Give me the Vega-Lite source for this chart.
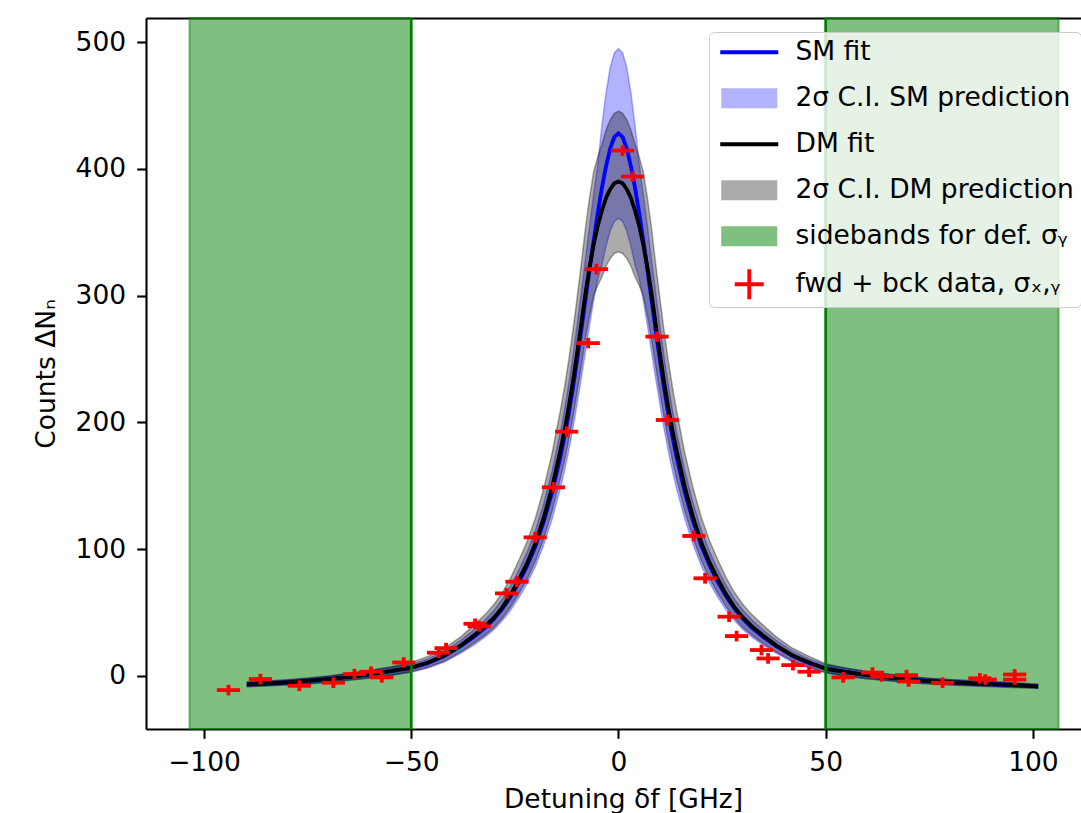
{
  "$schema": "https://vega.github.io/schema/vega-lite/v6.json",
  "width": 935,
  "height": 711,
  "autosize": {"type": "none"},
  "padding": {"left": 146, "top": 18, "right": 0, "bottom": 84},
  "background": "white",
  "config": {
    "view": {"stroke": null},
    "font": "DejaVu Sans",
    "axis": {
      "labelFont": "DejaVu Sans", "labelFontSize": 26.5, "labelColor": "#000000",
      "titleFont": "DejaVu Sans", "titleFontSize": 26.5, "titleFontWeight": "normal", "titleColor": "#000000",
      "tickColor": "#000000", "tickWidth": 2.1, "tickSize": 9.3,
      "domainColor": "#000000", "domainWidth": 2.1, "grid": false, "labelPadding": 11
    }
  },
  "datasets": {
    "bands": [{"x0": -103.5, "x1": -50}, {"x0": 50, "x1": 106.2}],
    "lines50": [{"x": -50}, {"x": 50}],
    "curves": [
      {"x": -89.6, "sm": -6.8, "sm_lo": -8.5, "sm_hi": -5.1, "dm": -6.8, "dm_lo": -8.7, "dm_hi": -4.9},
      {"x": -85, "sm": -6.1, "sm_lo": -7.9, "sm_hi": -4.3, "dm": -6.1, "dm_lo": -8.1, "dm_hi": -4.1},
      {"x": -80, "sm": -5.2, "sm_lo": -7.1, "sm_hi": -3.3, "dm": -5.2, "dm_lo": -7.3, "dm_hi": -3.1},
      {"x": -75, "sm": -4.1, "sm_lo": -6.2, "sm_hi": -2.0, "dm": -4.1, "dm_lo": -6.4, "dm_hi": -1.8},
      {"x": -70, "sm": -2.6, "sm_lo": -4.9, "sm_hi": -0.3, "dm": -2.6, "dm_lo": -5.1, "dm_hi": -0.1},
      {"x": -65, "sm": -0.8, "sm_lo": -3.4, "sm_hi": 1.8, "dm": -0.8, "dm_lo": -3.5, "dm_hi": 1.9},
      {"x": -60, "sm": 1.2, "sm_lo": -1.7, "sm_hi": 4.1, "dm": 1.2, "dm_lo": -1.8, "dm_hi": 4.2},
      {"x": -55, "sm": 3.6, "sm_lo": 0.4, "sm_hi": 6.8, "dm": 3.6, "dm_lo": 0.3, "dm_hi": 6.9},
      {"x": -50, "sm": 6.2, "sm_lo": 2.7, "sm_hi": 9.1, "dm": 6.5, "dm_lo": 3.2, "dm_hi": 10.6},
      {"x": -46, "sm": 10, "sm_lo": 6.2, "sm_hi": 13.3, "dm": 10.5, "dm_lo": 6.7, "dm_hi": 15.3},
      {"x": -42, "sm": 15.5, "sm_lo": 10.9, "sm_hi": 19.4, "dm": 16, "dm_lo": 11.6, "dm_hi": 21.7},
      {"x": -38, "sm": 23.5, "sm_lo": 17.9, "sm_hi": 28.2, "dm": 24, "dm_lo": 18.8, "dm_hi": 30.9},
      {"x": -35, "sm": 30.5, "sm_lo": 24, "sm_hi": 35.9, "dm": 31.5, "dm_lo": 25.4, "dm_hi": 39.6},
      {"x": -32, "sm": 38.5, "sm_lo": 31, "sm_hi": 44.7, "dm": 39.5, "dm_lo": 32.6, "dm_hi": 48.9},
      {"x": -30, "sm": 45, "sm_lo": 36.6, "sm_hi": 51.8, "dm": 46, "dm_lo": 38.3, "dm_hi": 56.5},
      {"x": -28, "sm": 53, "sm_lo": 43.6, "sm_hi": 60.6, "dm": 54, "dm_lo": 45.5, "dm_hi": 65.7},
      {"x": -26, "sm": 62.5, "sm_lo": 51.8, "sm_hi": 71.1, "dm": 64, "dm_lo": 54.4, "dm_hi": 77.3},
      {"x": -24, "sm": 74, "sm_lo": 61.8, "sm_hi": 83.7, "dm": 76, "dm_lo": 65, "dm_hi": 91.3},
      {"x": -22, "sm": 87, "sm_lo": 73.1, "sm_hi": 98, "dm": 89, "dm_lo": 76.6, "dm_hi": 106.3},
      {"x": -20, "sm": 102.5, "sm_lo": 86.6, "sm_hi": 115.1, "dm": 105, "dm_lo": 90.8, "dm_hi": 124.9},
      {"x": -18, "sm": 122, "sm_lo": 103.6, "sm_hi": 136.5, "dm": 125, "dm_lo": 108.6, "dm_hi": 148.1},
      {"x": -16, "sm": 145, "sm_lo": 123.6, "sm_hi": 161.8, "dm": 149, "dm_lo": 130, "dm_hi": 175.9},
      {"x": -14, "sm": 173, "sm_lo": 148, "sm_hi": 192.6, "dm": 178, "dm_lo": 155.8, "dm_hi": 209.6},
      {"x": -13, "sm": 189, "sm_lo": 161.9, "sm_hi": 210.2, "dm": 194, "dm_lo": 170.1, "dm_hi": 228.1},
      {"x": -12, "sm": 207, "sm_lo": 177.5, "sm_hi": 230, "dm": 212, "dm_lo": 186.1, "dm_hi": 249},
      {"x": -11, "sm": 227, "sm_lo": 194.9, "sm_hi": 252, "dm": 232, "dm_lo": 203.9, "dm_hi": 272.2},
      {"x": -10, "sm": 249, "sm_lo": 214.1, "sm_hi": 276.2, "dm": 254, "dm_lo": 223.5, "dm_hi": 297.7},
      {"x": -9, "sm": 272, "sm_lo": 234.1, "sm_hi": 301.5, "dm": 277, "dm_lo": 243.9, "dm_hi": 324.4},
      {"x": -8, "sm": 296, "sm_lo": 255, "sm_hi": 327.9, "dm": 301, "dm_lo": 265.3, "dm_hi": 352.3},
      {"x": -7, "sm": 320, "sm_lo": 275.9, "sm_hi": 354.3, "dm": 322, "dm_lo": 284, "dm_hi": 376.6},
      {"x": -6, "sm": 343, "sm_lo": 295.9, "sm_hi": 379.6, "dm": 340, "dm_lo": 300, "dm_hi": 397.5},
      {"x": -5, "sm": 365, "sm_lo": 313, "sm_hi": 403.8, "dm": 355, "dm_lo": 307.9, "dm_hi": 409.4},
      {"x": -4, "sm": 385, "sm_lo": 324, "sm_hi": 434, "dm": 367, "dm_lo": 314.6, "dm_hi": 419.4},
      {"x": -3, "sm": 402, "sm_lo": 339, "sm_hi": 460, "dm": 377, "dm_lo": 323.3, "dm_hi": 430.7},
      {"x": -2, "sm": 416, "sm_lo": 350.9, "sm_hi": 480, "dm": 384, "dm_lo": 329.3, "dm_hi": 438.7},
      {"x": -1, "sm": 425, "sm_lo": 358.5, "sm_hi": 491.5, "dm": 388.5, "dm_lo": 333.2, "dm_hi": 443.8},
      {"x": 0, "sm": 428, "sm_lo": 361.1, "sm_hi": 494.9, "dm": 390, "dm_lo": 334.5, "dm_hi": 445.5},
      {"x": 1, "sm": 425, "sm_lo": 358.5, "sm_hi": 491.5, "dm": 388.5, "dm_lo": 333.2, "dm_hi": 443.8},
      {"x": 2, "sm": 416, "sm_lo": 350.9, "sm_hi": 480, "dm": 384, "dm_lo": 329.3, "dm_hi": 438.7},
      {"x": 3, "sm": 402, "sm_lo": 339, "sm_hi": 460, "dm": 377, "dm_lo": 323.3, "dm_hi": 430.7},
      {"x": 4, "sm": 385, "sm_lo": 324, "sm_hi": 434, "dm": 367, "dm_lo": 314.6, "dm_hi": 419.4},
      {"x": 5, "sm": 365, "sm_lo": 313, "sm_hi": 403.8, "dm": 355, "dm_lo": 307.9, "dm_hi": 409.4},
      {"x": 6, "sm": 343, "sm_lo": 295.9, "sm_hi": 379.6, "dm": 340, "dm_lo": 300, "dm_hi": 397.5},
      {"x": 7, "sm": 320, "sm_lo": 275.9, "sm_hi": 354.3, "dm": 322, "dm_lo": 284, "dm_hi": 376.6},
      {"x": 8, "sm": 296, "sm_lo": 255, "sm_hi": 327.9, "dm": 301, "dm_lo": 265.3, "dm_hi": 352.3},
      {"x": 9, "sm": 272, "sm_lo": 234.1, "sm_hi": 301.5, "dm": 277, "dm_lo": 243.9, "dm_hi": 324.4},
      {"x": 10, "sm": 249, "sm_lo": 214.1, "sm_hi": 276.2, "dm": 254, "dm_lo": 223.5, "dm_hi": 297.7},
      {"x": 11, "sm": 227, "sm_lo": 194.9, "sm_hi": 252, "dm": 232, "dm_lo": 203.9, "dm_hi": 272.2},
      {"x": 12, "sm": 207, "sm_lo": 177.5, "sm_hi": 230, "dm": 212, "dm_lo": 186.1, "dm_hi": 249},
      {"x": 13, "sm": 189, "sm_lo": 161.9, "sm_hi": 210.2, "dm": 194, "dm_lo": 170.1, "dm_hi": 228.1},
      {"x": 14, "sm": 173, "sm_lo": 148, "sm_hi": 192.6, "dm": 178, "dm_lo": 155.8, "dm_hi": 209.6},
      {"x": 16, "sm": 145, "sm_lo": 123.6, "sm_hi": 161.8, "dm": 149, "dm_lo": 130, "dm_hi": 175.9},
      {"x": 18, "sm": 122, "sm_lo": 103.6, "sm_hi": 136.5, "dm": 125, "dm_lo": 108.6, "dm_hi": 148.1},
      {"x": 20, "sm": 102.5, "sm_lo": 86.6, "sm_hi": 115.1, "dm": 105, "dm_lo": 90.8, "dm_hi": 124.9},
      {"x": 22, "sm": 87, "sm_lo": 73.1, "sm_hi": 98, "dm": 89, "dm_lo": 76.6, "dm_hi": 106.3},
      {"x": 24, "sm": 74, "sm_lo": 61.8, "sm_hi": 83.7, "dm": 76, "dm_lo": 65, "dm_hi": 91.3},
      {"x": 26, "sm": 62.5, "sm_lo": 51.8, "sm_hi": 71.1, "dm": 64, "dm_lo": 54.4, "dm_hi": 77.3},
      {"x": 28, "sm": 53, "sm_lo": 43.6, "sm_hi": 60.6, "dm": 54, "dm_lo": 45.5, "dm_hi": 65.7},
      {"x": 30, "sm": 45, "sm_lo": 36.6, "sm_hi": 51.8, "dm": 46, "dm_lo": 38.3, "dm_hi": 56.5},
      {"x": 32, "sm": 38.5, "sm_lo": 31, "sm_hi": 44.7, "dm": 39.5, "dm_lo": 32.6, "dm_hi": 48.9},
      {"x": 35, "sm": 30.5, "sm_lo": 24, "sm_hi": 35.9, "dm": 31.5, "dm_lo": 25.4, "dm_hi": 39.6},
      {"x": 38, "sm": 23.5, "sm_lo": 17.9, "sm_hi": 28.2, "dm": 24, "dm_lo": 18.8, "dm_hi": 30.9},
      {"x": 42, "sm": 15.5, "sm_lo": 10.9, "sm_hi": 19.4, "dm": 16, "dm_lo": 11.6, "dm_hi": 21.7},
      {"x": 46, "sm": 10, "sm_lo": 6.2, "sm_hi": 13.3, "dm": 10.5, "dm_lo": 6.7, "dm_hi": 15.3},
      {"x": 50, "sm": 5.8, "sm_lo": 2.5, "sm_hi": 8.7, "dm": 5.5, "dm_lo": 2.3, "dm_hi": 9.5},
      {"x": 55, "sm": 2.8, "sm_lo": -0.3, "sm_hi": 5.9, "dm": 2.8, "dm_lo": -0.4, "dm_hi": 6.0},
      {"x": 60, "sm": 0.5, "sm_lo": -2.3, "sm_hi": 3.3, "dm": 0.5, "dm_lo": -2.4, "dm_hi": 3.4},
      {"x": 65, "sm": -1.3, "sm_lo": -3.8, "sm_hi": 1.2, "dm": -1.3, "dm_lo": -4.0, "dm_hi": 1.4},
      {"x": 70, "sm": -3.0, "sm_lo": -5.3, "sm_hi": -0.7, "dm": -3.0, "dm_lo": -5.4, "dm_hi": -0.6},
      {"x": 75, "sm": -4.2, "sm_lo": -6.3, "sm_hi": -2.1, "dm": -4.2, "dm_lo": -6.5, "dm_hi": -1.9},
      {"x": 80, "sm": -5.1, "sm_lo": -7.0, "sm_hi": -3.2, "dm": -5.1, "dm_lo": -7.3, "dm_hi": -2.9},
      {"x": 85, "sm": -5.9, "sm_lo": -7.7, "sm_hi": -4.1, "dm": -5.9, "dm_lo": -8.0, "dm_hi": -3.8},
      {"x": 90, "sm": -6.6, "sm_lo": -8.3, "sm_hi": -4.9, "dm": -6.6, "dm_lo": -8.6, "dm_hi": -4.6},
      {"x": 95, "sm": -7.3, "sm_lo": -8.9, "sm_hi": -5.7, "dm": -7.3, "dm_lo": -9.2, "dm_hi": -5.4},
      {"x": 101.2, "sm": -8.3, "sm_lo": -9.8, "sm_hi": -6.8, "dm": -8.3, "dm_lo": -10.0, "dm_hi": -6.6}
    ],
    "points": [
      {"x": -94.1, "y": -11.3, "xlo": -96.9, "xhi": -91.3, "ylo": -15.5, "yhi": -7.1},
      {"x": -86.4, "y": -2.6, "xlo": -89.2, "xhi": -83.6, "ylo": -6.8, "yhi": 1.6},
      {"x": -77.0, "y": -7.9, "xlo": -79.8, "xhi": -74.2, "ylo": -12.1, "yhi": -3.7},
      {"x": -68.8, "y": -5.5, "xlo": -71.6, "xhi": -66.0, "ylo": -9.7, "yhi": -1.3},
      {"x": -63.7, "y": 1.3, "xlo": -66.5, "xhi": -60.9, "ylo": -2.9, "yhi": 5.5},
      {"x": -59.7, "y": 3.2, "xlo": -62.5, "xhi": -56.9, "ylo": -1.0, "yhi": 7.4},
      {"x": -57.1, "y": -1.3, "xlo": -59.9, "xhi": -54.3, "ylo": -5.5, "yhi": 2.9},
      {"x": -51.8, "y": 10.5, "xlo": -54.6, "xhi": -49.0, "ylo": 6.3, "yhi": 14.7},
      {"x": -43.4, "y": 18.2, "xlo": -46.2, "xhi": -40.6, "ylo": 14.0, "yhi": 22.4},
      {"x": -41.6, "y": 21.8, "xlo": -44.4, "xhi": -38.8, "ylo": 17.6, "yhi": 26.0},
      {"x": -34.6, "y": 41.0, "xlo": -37.4, "xhi": -31.8, "ylo": 36.8, "yhi": 45.2},
      {"x": -33.6, "y": 39.0, "xlo": -36.4, "xhi": -30.8, "ylo": 34.8, "yhi": 43.2},
      {"x": -27.0, "y": 65.0, "xlo": -29.8, "xhi": -24.2, "ylo": 60.8, "yhi": 69.2},
      {"x": -24.5, "y": 74.2, "xlo": -27.3, "xhi": -21.7, "ylo": 70.0, "yhi": 78.4},
      {"x": -20.1, "y": 109.2, "xlo": -22.9, "xhi": -17.3, "ylo": 105.0, "yhi": 113.4},
      {"x": -15.7, "y": 148.7, "xlo": -18.5, "xhi": -12.9, "ylo": 144.5, "yhi": 152.9},
      {"x": -12.5, "y": 192.6, "xlo": -15.3, "xhi": -9.7, "ylo": 188.4, "yhi": 196.8},
      {"x": -7.3, "y": 262.5, "xlo": -10.1, "xhi": -4.5, "ylo": 258.3, "yhi": 266.7},
      {"x": -5.3, "y": 320.8, "xlo": -8.1, "xhi": -2.5, "ylo": 316.6, "yhi": 325.0},
      {"x": 1.0, "y": 414.4, "xlo": -1.8, "xhi": 3.8, "ylo": 410.2, "yhi": 418.6},
      {"x": 3.4, "y": 393.9, "xlo": 0.6, "xhi": 6.2, "ylo": 389.7, "yhi": 398.1},
      {"x": 9.3, "y": 267.6, "xlo": 6.5, "xhi": 12.1, "ylo": 263.4, "yhi": 271.8},
      {"x": 11.8, "y": 201.8, "xlo": 9.0, "xhi": 14.6, "ylo": 197.6, "yhi": 206.0},
      {"x": 18.2, "y": 110.3, "xlo": 15.4, "xhi": 21.0, "ylo": 106.1, "yhi": 114.5},
      {"x": 20.9, "y": 76.9, "xlo": 18.1, "xhi": 23.7, "ylo": 72.7, "yhi": 81.1},
      {"x": 26.7, "y": 46.6, "xlo": 23.9, "xhi": 29.5, "ylo": 42.4, "yhi": 50.8},
      {"x": 28.5, "y": 31.3, "xlo": 25.7, "xhi": 31.3, "ylo": 27.1, "yhi": 35.5},
      {"x": 34.5, "y": 20.3, "xlo": 31.7, "xhi": 37.3, "ylo": 16.1, "yhi": 24.5},
      {"x": 36.1, "y": 13.7, "xlo": 33.3, "xhi": 38.9, "ylo": 9.5, "yhi": 17.9},
      {"x": 42.1, "y": 8.4, "xlo": 39.3, "xhi": 44.9, "ylo": 4.2, "yhi": 12.6},
      {"x": 46.0, "y": 3.2, "xlo": 43.2, "xhi": 48.8, "ylo": -1.0, "yhi": 7.4},
      {"x": 54.2, "y": -1.3, "xlo": 51.4, "xhi": 57.0, "ylo": -5.5, "yhi": 2.9},
      {"x": 61.3, "y": 2.5, "xlo": 58.5, "xhi": 64.1, "ylo": -1.7, "yhi": 6.7},
      {"x": 63.5, "y": -0.5, "xlo": 60.7, "xhi": 66.3, "ylo": -4.7, "yhi": 3.7},
      {"x": 69.5, "y": 0.5, "xlo": 66.7, "xhi": 72.3, "ylo": -3.7, "yhi": 4.7},
      {"x": 70.0, "y": -4.5, "xlo": 67.2, "xhi": 72.8, "ylo": -8.7, "yhi": -0.3},
      {"x": 78.2, "y": -5.5, "xlo": 75.4, "xhi": 81.0, "ylo": -9.7, "yhi": -1.3},
      {"x": 87.2, "y": -2.0, "xlo": 84.4, "xhi": 90.0, "ylo": -6.2, "yhi": 2.2},
      {"x": 88.5, "y": -3.0, "xlo": 85.7, "xhi": 91.3, "ylo": -7.2, "yhi": 1.2},
      {"x": 95.6, "y": 1.0, "xlo": 92.8, "xhi": 98.4, "ylo": -3.2, "yhi": 5.2},
      {"x": 95.6, "y": -3.0, "xlo": 92.8, "xhi": 98.4, "ylo": -7.2, "yhi": 1.2}
    ]
  },
  "layer": [
    {
      "data": {"name": "bands"},
      "mark": {"type": "rect", "stroke": "rgba(0,128,0,0.5)", "strokeWidth": 2},
      "encoding": {
        "x": {"field": "x0", "type": "quantitative",
          "scale": {"domain": [-114, 111.6], "nice": false, "zero": false},
          "axis": {"orient": "bottom", "values": [-100, -50, 0, 50, 100], "title": "Detuning δf [GHz]", "titleX": 477, "titlePadding": 11, "labelPadding": 11}},
        "x2": {"field": "x1"},
        "color": {
          "datum": "sidebands for def. σᵧ",
          "scale": {
            "domain": ["SM fit", "2σ C.I. SM prediction", "DM fit", "2σ C.I. DM prediction", "sidebands for def. σᵧ", "fwd + bck data, σₓ,ᵧ"],
            "range": ["#0000ff", "rgba(0,0,255,0.3)", "#000000", "rgba(0,0,0,0.33)", "rgba(0,128,0,0.5)", "#ff0000"]
          },
          "legend": {
            "title": null,
            "orient": "none",
            "legendX": 563,
            "legendY": 14,
            "padding": 7,
            "fillColor": "rgba(255,255,255,0.8)",
            "strokeColor": "#cccccc",
            "cornerRadius": 5,
            "labelFont": "DejaVu Sans",
            "labelFontSize": 26.5,
            "labelColor": "#000000",
            "labelOffset": 53,
            "labelLimit": 0,
            "labelExpr": "datum.label + '    '",
            "rowPadding": 19,
            "symbolSize": 400,
            "symbolStrokeWidth": 0,
            "symbolOpacity": 1,
            "symbolType": {"expr": "datum.index === 0 || datum.index === 2 ? 'M-0.9,-0.19H4.9V0.19H-0.9Z' : (datum.index === 5 ? 'M0.55,-0.19H3.45V0.19H0.55ZM1.81,-1.5H2.19V1.5H1.81Z' : 'M-0.8,-1H4.8V1H-0.8Z')"}
          }
        }
      }
    },
    {
      "data": {"name": "curves"},
      "mark": {"type": "area", "stroke": "rgba(0,0,255,0.3)", "strokeWidth": 1.5},
      "encoding": {
        "x": {"field": "x", "type": "quantitative", "axis": null},
        "y": {"field": "sm_lo", "type": "quantitative",
          "scale": {"domain": [-42, 519], "nice": false, "zero": false},
          "axis": {"values": [0, 100, 200, 300, 400, 500], "title": "Counts ΔNₙ", "titlePadding": 15, "labelPadding": 11}},
        "y2": {"field": "sm_hi"},
        "color": {"datum": "2σ C.I. SM prediction"}
      }
    },
    {
      "data": {"name": "curves"},
      "mark": {"type": "area", "stroke": "rgba(0,0,0,0.33)", "strokeWidth": 1.5},
      "encoding": {
        "x": {"field": "x", "type": "quantitative", "axis": null},
        "y": {"field": "dm_lo", "type": "quantitative", "axis": null},
        "y2": {"field": "dm_hi"},
        "color": {"datum": "2σ C.I. DM prediction"}
      }
    },
    {
      "data": {"name": "curves"},
      "mark": {"type": "line", "strokeWidth": 3.8},
      "encoding": {
        "x": {"field": "x", "type": "quantitative", "axis": null},
        "y": {"field": "sm", "type": "quantitative", "axis": null},
        "color": {"datum": "SM fit"}
      }
    },
    {
      "data": {"name": "curves"},
      "mark": {"type": "line", "strokeWidth": 3.8},
      "encoding": {
        "x": {"field": "x", "type": "quantitative", "axis": null},
        "y": {"field": "dm", "type": "quantitative", "axis": null},
        "color": {"datum": "DM fit"}
      }
    },
    {
      "data": {"name": "lines50"},
      "mark": {"type": "rule", "color": "#008000", "strokeWidth": 2.7},
      "encoding": {
        "x": {"field": "x", "type": "quantitative",
          "axis": {"orient": "top", "labels": false, "ticks": false, "title": null, "domain": true, "grid": false}}
      }
    },
    {
      "data": {"name": "points"},
      "mark": {"type": "rule", "strokeWidth": 3.8},
      "encoding": {
        "x": {"field": "xlo", "type": "quantitative", "axis": null},
        "x2": {"field": "xhi"},
        "y": {"field": "y", "type": "quantitative", "axis": null},
        "color": {"datum": "fwd + bck data, σₓ,ᵧ"}
      }
    },
    {
      "data": {"name": "points"},
      "mark": {"type": "rule", "strokeWidth": 3.8},
      "encoding": {
        "x": {"field": "x", "type": "quantitative", "axis": null},
        "y": {"field": "ylo", "type": "quantitative", "axis": null},
        "y2": {"field": "yhi"},
        "color": {"datum": "fwd + bck data, σₓ,ᵧ"}
      }
    }
  ],
  "resolve": {"axis": {"x": "independent", "y": "independent"}}
}
